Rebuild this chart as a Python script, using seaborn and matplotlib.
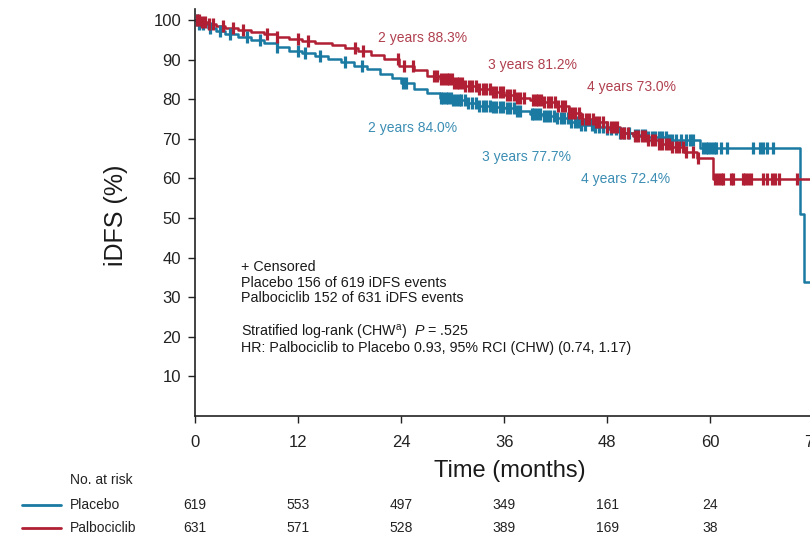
import numpy as np
import pandas as pd
import matplotlib
matplotlib.use("Agg")
import matplotlib.pyplot as plt
import seaborn as sns
from matplotlib.lines import Line2D
from matplotlib import transforms

# Kaplan-Meier step knots (months, iDFS %)
placebo_t = [0, 0.5, 1.5, 2.5, 3.5, 5, 6.5, 8, 9.5, 11, 12.5, 14, 15.5, 17, 18.5, 20,
             21.5, 23, 24, 25.5, 27, 28.5, 30, 31.5, 33, 34.5, 36, 37.5, 39, 40.5, 42,
             43.5, 45, 46.5, 48, 49.5, 51, 52.5, 55, 58.8, 70.5, 70.9, 76]
placebo_s = [100, 98.9, 98.1, 97.2, 96.5, 95.8, 95.0, 94.2, 93.2, 92.3, 91.6, 90.9, 90.1,
             89.3, 88.5, 87.6, 86.5, 85.3, 84.0, 82.7, 81.5, 80.4, 79.7, 79.0, 78.3, 78.0,
             77.7, 77.1, 76.4, 75.8, 75.2, 74.3, 73.6, 73.0, 72.4, 71.6, 70.9, 70.4, 69.8,
             67.8, 51.0, 33.8, 33.8]

palbo_t = [0, 0.8, 1.5, 2.5, 3.5, 5, 6.5, 8, 9.5, 11, 12.5, 14, 16, 17.5, 19, 20.5, 22,
           23.8, 25.5, 27, 28.5, 30, 31.5, 33, 34.5, 36, 37.5, 39, 40.5, 42, 43.5, 45,
           46.5, 48, 49.5, 51, 52.5, 54, 55.5, 57, 58.5, 60.3, 76]
palbo_s = [100, 99.6, 99.1, 98.6, 98.0, 97.5, 97.0, 96.4, 95.8, 95.3, 94.8, 94.3, 93.6,
           92.9, 92.1, 91.2, 90.1, 88.3, 87.3, 86.0, 85.0, 84.2, 83.4, 82.6, 81.9, 81.2,
           80.3, 79.8, 79.3, 78.2, 76.6, 75.1, 74.2, 73.0, 71.6, 70.6, 69.6, 68.7, 67.9,
           66.6, 65.2, 59.8, 59.8]

# censored observations (months)
placebo_cens = [0.2, 0.5, 0.9, 1.7, 2.9, 4.1, 6.0, 7.6, 9.5, 12.0, 12.8, 14.6, 17.5, 19.4,
                24.2, 24.6, 28.6, 28.9, 29.2, 29.5, 29.8, 30.1, 30.4, 30.7, 31.0, 31.4,
                31.8, 32.3, 32.7, 33.1, 33.5, 33.9, 34.3, 34.7, 35.1, 35.5, 35.9, 36.3,
                36.7, 37.1, 37.5, 37.9, 39.2, 39.5, 39.8, 40.2, 40.6, 41.0, 41.4, 41.8,
                42.2, 42.6, 43.0, 43.4, 43.8, 44.2, 44.6, 45.0, 45.4, 46.2, 46.6, 47.0,
                47.5, 48.0, 48.5, 49.0, 49.5, 50.0, 50.6, 51.2, 51.6, 52.0, 52.4, 52.8,
                53.2, 53.6, 54.0, 54.4, 54.8, 55.2, 55.6, 56.0, 56.6, 57.2, 57.6, 58.0,
                59.2, 59.5, 59.8, 60.1, 60.4, 60.7, 61.3, 62.0, 65.0, 65.8, 66.2, 66.6, 67.3]
palbo_cens = [0.2, 0.5, 0.8, 1.2, 1.6, 2.1, 3.3, 4.4, 5.6, 8.4, 9.5, 12.0, 13.2, 18.6,
              19.6, 23.6, 24.3, 25.4, 27.8, 28.2, 28.6, 29.0, 29.3, 29.6, 29.9, 30.2,
              30.5, 30.8, 31.1, 31.5, 31.9, 32.3, 32.7, 33.1, 33.5, 33.9, 34.3, 34.7,
              35.1, 35.5, 35.9, 36.3, 36.7, 37.1, 37.5, 37.9, 38.3, 39.4, 39.7, 40.0,
              40.3, 40.7, 41.1, 41.5, 41.9, 42.3, 42.7, 43.1, 43.5, 43.9, 44.3, 44.7,
              45.1, 45.5, 45.9, 46.3, 46.7, 47.1, 47.5, 48.0, 48.4, 48.8, 49.2, 49.6,
              50.0, 50.4, 51.2, 51.6, 52.0, 52.4, 52.8, 53.2, 53.6, 54.0, 54.4, 54.8,
              55.2, 55.6, 56.0, 56.4, 56.8, 57.2, 58.0, 58.6, 60.6, 60.9, 61.2, 61.5,
              62.4, 62.7, 63.8, 64.1, 64.4, 64.7, 66.2, 66.6, 67.2, 67.6, 68.0, 70.1]

# number at risk
risk_times = [0, 12, 24, 36, 48, 60, 72]
placebo_risk = [619, 553, 497, 349, 161, 24, 0]
palbo_risk = [631, 571, 528, 389, 169, 38, 0]

# landmark annotations
placebo_marks = ["2 years 84.0%", "3 years 77.7%", "4 years 72.4%"]
palbo_marks = ["2 years 88.3%", "3 years 81.2%", "4 years 73.0%"]

blue = "#1a7aa2"
red = "#b01f33"
blue_txt = "#3b8db3"
red_txt = "#b0404f"

sns.set_style("ticks")
plt.rcParams["font.family"] = ["Liberation Sans", "DejaVu Sans"]
plt.rcParams["mathtext.fontset"] = "custom"
plt.rcParams["mathtext.rm"] = "Liberation Sans"
plt.rcParams["mathtext.it"] = "Liberation Sans:italic"

fig = plt.figure(figsize=(8.1, 5.34), dpi=100)
ax = fig.add_axes([195 / 810, 118 / 534, 644 / 810, 407 / 534])


def surv_at(tk, sk, times):
    idx = np.searchsorted(tk, times, side="right") - 1
    return np.array(sk)[idx]


for tk, sk, cens, col in [(placebo_t, placebo_s, placebo_cens, blue),
                          (palbo_t, palbo_s, palbo_cens, red)]:
    curve = pd.DataFrame({"t": tk, "s": sk})
    sns.lineplot(data=curve, x="t", y="s", drawstyle="steps-post", color=col,
                 lw=1.8, sort=False, estimator=None, ax=ax)
    cdf = pd.DataFrame({"t": cens, "s": surv_at(tk, sk, cens)})
    sns.scatterplot(data=cdf, x="t", y="s", marker="|", s=70, linewidth=2.3,
                    color=col, ax=ax, zorder=3)

ax.set_xlim(0, 75)
ax.set_ylim(0, 102.8)
ax.set_xticks(risk_times)
ax.set_yticks(range(10, 101, 10))
ax.set_xlabel("")
ax.set_ylabel("")
sns.despine(ax=ax)
for sp in ["left", "bottom"]:
    ax.spines[sp].set_linewidth(1.2)
    ax.spines[sp].set_color("#222222")
ax.tick_params(axis="both", labelsize=12, length=5, width=1, color="#222222",
               labelcolor="#222222")
ax.tick_params(axis="x", pad=9)
ax.tick_params(axis="y", pad=5)

# landmark labels
ax.text(21.3, 95.5, palbo_marks[0], color=red_txt, fontsize=10, va="center")
ax.text(34.1, 88.7, palbo_marks[1], color=red_txt, fontsize=10, va="center")
ax.text(45.7, 83.1, palbo_marks[2], color=red_txt, fontsize=10, va="center")
ax.text(20.2, 72.7, placebo_marks[0], color=blue_txt, fontsize=10, va="center")
ax.text(33.4, 65.4, placebo_marks[1], color=blue_txt, fontsize=10, va="center")
ax.text(44.9, 59.8, placebo_marks[2], color=blue_txt, fontsize=10, va="center")

# info box
info = ["+ Censored",
        "Placebo 156 of 619 iDFS events",
        "Palbociclib 152 of 631 iDFS events",
        r"Stratified log-rank (CHW$^{\mathrm{a}}$)  $P$ = .525",
        "HR: Palbociclib to Placebo 0.93, 95% RCI (CHW) (0.74, 1.17)"]
info_y = [37.6, 33.7, 29.7, 21.0, 17.2]
for line, yy in zip(info, info_y):
    ax.text(5.3, yy, line, fontsize=10.3, color="#1a1a1a", va="center")

# axis titles
fig.text(116 / 810, 1 - 215 / 534, "iDFS (%)", rotation=90, fontsize=18,
         ha="center", va="center", color="#1a1a1a")
fig.text(510 / 810, 1 - 471 / 534, "Time (months)", fontsize=17, ha="center",
         va="center", color="#1a1a1a")

# number at risk table
trans = transforms.blended_transform_factory(ax.transData, fig.transFigure)
fig.text(70 / 810, 1 - 480 / 534, "No. at risk", fontsize=10, va="center", color="#222222")
for yy, name, vals, col in [(505, "Placebo", placebo_risk, blue),
                            (528, "Palbociclib", palbo_risk, red)]:
    yf = 1 - yy / 534
    fig.add_artist(Line2D([22 / 810, 61 / 810], [yf, yf], color=col, lw=2))
    fig.text(70 / 810, yf, name, fontsize=10, va="center", color="#222222")
    for t, v in zip(risk_times, vals):
        ax.text(t, yf, str(v), transform=trans, fontsize=10, ha="center",
                va="center", color="#222222", clip_on=False)

fig.savefig("out.png", dpi=100)
